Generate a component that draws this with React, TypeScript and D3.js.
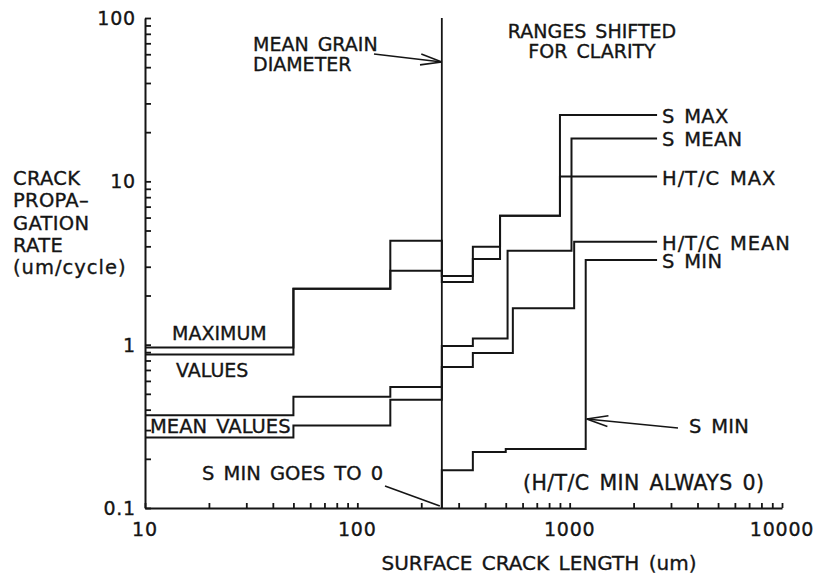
import React, { useEffect, useRef } from 'react';
import * as d3 from 'd3';

// crack length breakpoints (um) and propagation rates (um/cycle)
const grainSize = 250;

const leftEdges = [10, 50, 143, 250];
const maxValuesS = [0.96, 2.2, 4.33];
const maxValuesHTC = [0.87, 2.2, 2.84];
const meanValuesS = [0.37, 0.48, 0.55];
const meanValuesHTC = [0.27, 0.32, 0.46];

const sMaxEdges = [250, 350, 470, 900, 2580];
const sMaxValues = [2.63, 3.98, 6.16, 25.5];
const htcMaxEdges = [250, 350, 470, 900, 2580];
const htcMaxValues = [2.42, 3.35, 6.16, 10.7];
const sMeanEdges = [250, 350, 510, 1020, 2580];
const sMeanValues = [0.98, 1.09, 3.76, 18.3];
const htcMeanEdges = [250, 350, 540, 1050, 2580];
const htcMeanValues = [0.73, 0.89, 1.67, 4.27];
// S min is 0 below the grain size
const sMinEdges = [250, 250, 350, 500, 1190, 2580];
const sMinValues = [0, 0.17, 0.22, 0.23, 3.3];

const xTickLabels = [10, 100, 1000, 10000];
const yTickLabels = [0.1, 1, 10, 100];
const yTitle = ['CRACK', 'PROPA–', 'GATION', 'RATE', '(um/cycle)'];

const FONT = '"DejaVu Sans", Arial, sans-serif';
const INK = '#151515';

type Series = { label: string; edges: number[]; values: number[] };

const series: Series[] = [
    { label: 'S MAX', edges: [...leftEdges.slice(0, -1), ...sMaxEdges], values: [...maxValuesS, ...sMaxValues] },
    { label: 'S MEAN', edges: [...leftEdges.slice(0, -1), ...sMeanEdges], values: [...meanValuesS, ...sMeanValues] },
    { label: 'H/T/C MAX', edges: [...leftEdges.slice(0, -1), ...htcMaxEdges], values: [...maxValuesHTC, ...htcMaxValues] },
    { label: 'H/T/C MEAN', edges: [...leftEdges.slice(0, -1), ...htcMeanEdges], values: [...meanValuesHTC, ...htcMeanValues] },
    { label: 'S MIN', edges: sMinEdges, values: sMinValues },
];

const App = () => {
    const svgRef = useRef<SVGSVGElement>(null);

    useEffect(() => {
        const svg = d3.select(svgRef.current);
        svg.selectAll('*').remove();

        const x = d3.scaleLog().domain([10, 10000]).range([145, 782]);
        const y = d3.scaleLog().domain([0.1, 100]).range([508, 18]);
        const yy = (v: number) => y(Math.max(v, 0.1));

        const text = (tx: number, ty: number, s: string, size = 19.5, anchor = 'start', spacing = 0.3) =>
            svg.append('text')
                .attr('x', tx)
                .attr('y', ty)
                .attr('font-family', FONT)
                .attr('font-size', size)
                .attr('word-spacing', 3)
                .attr('letter-spacing', spacing)
                .attr('fill', INK)
                .attr('stroke', INK)
                .attr('stroke-width', 0.35)
                .attr('text-anchor', anchor)
                .text(s);

        const seg = (x1: number, y1: number, x2: number, y2: number, w = 1.6) =>
            svg.append('line')
                .attr('x1', x1).attr('y1', y1).attr('x2', x2).attr('y2', y2)
                .attr('stroke', INK).attr('stroke-width', w);

        // open arrowhead at (x2, y2)
        const arrow = (x1: number, y1: number, x2: number, y2: number) => {
            seg(x1, y1, x2, y2);
            const a = Math.atan2(y1 - y2, x1 - x2);
            [-0.25, 0.25].forEach(da => {
                seg(x2, y2, x2 + 22 * Math.cos(a + da), y2 + 22 * Math.sin(a + da));
            });
        };

        // axes
        const xAxis = svg.append('g')
            .attr('transform', `translate(0,${y(0.1)})`)
            .call(d3.axisBottom(x).tickValues(x.ticks()).tickSizeInner(-5).tickSizeOuter(0).tickFormat(() => ''));
        const yAxis = svg.append('g')
            .attr('transform', `translate(${x(10)},0)`)
            .call(d3.axisLeft(y).tickValues(y.ticks()).tickSizeInner(-6).tickSizeOuter(0).tickFormat(() => ''));
        [xAxis, yAxis].forEach(ax => {
            ax.select('.domain').attr('stroke', INK).attr('stroke-width', 2);
            ax.selectAll('.tick line').attr('stroke', INK).attr('stroke-width', 1.8);
        });

        xTickLabels.forEach(v => text(x(v), 536, String(v), 19, 'middle', 0.8));
        yTickLabels.forEach(v => text(x(10) - 9, y(v) + 7, String(v), 19, 'end', 0.8));

        text(539, 570, 'SURFACE CRACK LENGTH (um)', 20, 'middle', 0);
        yTitle.forEach((s, i) => text(13, 185 + i * 22.3, s, 19.5, 'start', i === 4 ? 1 : 0.3));

        // mean grain diameter
        seg(x(grainSize), y(0.1), x(grainSize), y(100), 1.8);

        // step curves
        const line = d3.line<[number, number]>()
            .x(d => x(d[0]))
            .y(d => yy(d[1]))
            .curve(d3.curveStepAfter);

        series.forEach(s => {
            const pts: [number, number][] = s.edges.map((e, i) => [e, s.values[Math.min(i, s.values.length - 1)]]);
            svg.append('path')
                .attr('d', line(pts))
                .attr('fill', 'none')
                .attr('stroke', INK)
                .attr('stroke-width', 2);
            const last = s.values[s.values.length - 1];
            const slashed = s.label.includes('/');
            text(x(s.edges[s.edges.length - 1]) + 5, yy(last) + 8, s.label, 19.5, 'start', slashed ? 0.9 : 0.3);
        });

        // annotations
        text(253, 51, 'MEAN GRAIN', 19, 'start', 0);
        text(253, 71, 'DIAMETER', 19, 'start', 0);
        arrow(374, 54, x(grainSize), 62);

        text(592, 38, 'RANGES SHIFTED', 19, 'middle', 0);
        text(592, 58, 'FOR CLARITY', 19, 'middle', 0);

        text(172, 340, 'MAXIMUM', 19, 'start', 0);
        text(176, 377, 'VALUES', 19, 'start', 0);
        text(150, 433, 'MEAN VALUES', 19.5, 'start', 0);

        text(202, 480, 'S MIN GOES TO 0', 19.5, 'start', 0);
        seg(385, 486, x(grainSize) - 2, y(0.1) - 2);

        text(689, 433, 'S MIN', 19.5);
        arrow(678, 428, x(1190) + 1, 419);

        text(523, 490, '(H/T/C MIN ALWAYS 0)', 20.5, 'start', 0.4);
    }, []);

    return (
        <svg
            ref={svgRef}
            width={817}
            height={579}
            style={{ position: 'absolute', left: 0, top: 0, background: '#fff' }}
        />
    );
};

export default App;
